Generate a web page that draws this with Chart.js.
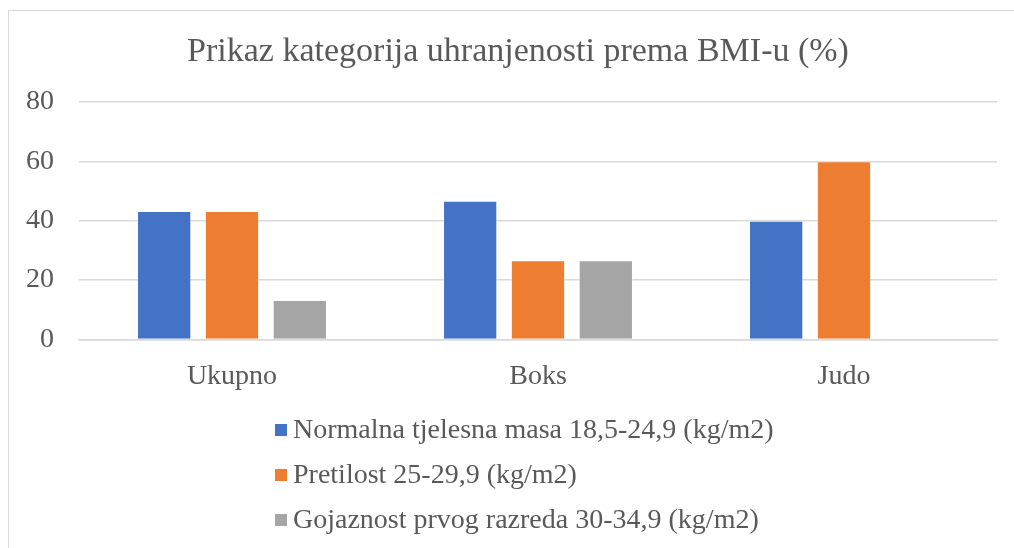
<!DOCTYPE html>
<html>
<head>
<meta charset="utf-8">
<script src="https://cdn.jsdelivr.net/npm/chart.js@4/dist/chart.umd.min.js"></script>
<style>
  html, body { margin: 0; padding: 0; background: #fff; overflow: hidden; }
  #frame { position: absolute; left: 8px; top: 10px; width: 1100px; height: 700px; border: 1px solid #d9d9d9; box-sizing: border-box; }
  #wrap { position: absolute; left: 0; top: 0; width: 1014px; height: 548px; }
  #title { position: absolute; left: 0; top: 30px; width: 1036px; text-align: center; font-family: "Liberation Serif", "Times New Roman", serif; font-size: 34px; line-height: 40px; color: #595959; white-space: nowrap; }
  #legend { position: absolute; left: 275px; top: 406px; font-family: "Liberation Serif", "Times New Roman", serif; font-size: 28px; color: #595959; }
  .item { display: flex; align-items: center; height: 45px; }
  .sw { width: 12px; height: 12px; margin-right: 6px; margin-top: 2px; }
</style>
</head>
<body>
<div id="frame"></div>
<div id="wrap"><canvas id="c" width="1014" height="548"></canvas></div>
<div id="title"></div>
<div id="legend"></div>
<script>
const titleText = "Prikaz kategorija uhranjenosti prema BMI-u (%)";
const categories = ["Ukupno", "Boks", "Judo"];
const seriesNames = [
  "Normalna tjelesna masa 18,5-24,9 (kg/m2)",
  "Pretilost 25-29,9 (kg/m2)",
  "Gojaznost prvog razreda 30-34,9 (kg/m2)"
];
const normalna = [43.3, 46.7, 40];
const pretilost = [43.3, 26.7, 60];
const gojaznost = [13.3, 26.7, 0];
const yTicks = [0, 20, 40, 60, 80];
const colors = ["#4472C4", "#ED7D31", "#A5A5A5"];

const seriesValues = [normalna, pretilost, gojaznost];
const datasets = seriesNames.map((name, i) => ({
  label: name,
  data: seriesValues[i],
  backgroundColor: colors[i],
  borderColor: "rgba(255,255,255,0.4)",
  borderWidth: 1,
  categoryPercentage: 0.665,
  barPercentage: 0.8
}));

const font = "'Liberation Serif', 'Times New Roman', serif";
Chart.defaults.font.family = font;
Chart.defaults.color = "#595959";

new Chart(document.getElementById("c"), {
  type: "bar",
  data: { labels: categories, datasets },
  options: {
    responsive: false,
    animation: false,
    layout: { padding: { left: 1, right: 17, top: 102, bottom: 143 } },
    plugins: {
      legend: { display: false },
      tooltip: { enabled: false },
      title: { display: false }
    },
    scales: {
      y: {
        min: 0, max: 80,
        afterBuildTicks: (axis) => { axis.ticks = yTicks.map(v => ({ value: v })); },
        ticks: { font: { size: 28 }, color: "#595959", padding: 25 },
        grid: { color: "#D9D9D9", lineWidth: 1.5, drawTicks: false },
        border: { display: false }
      },
      x: {
        ticks: { font: { size: 28 }, color: "#595959", padding: 12 },
        grid: { display: false },
        border: { color: "#D9D9D9", width: 1.5 }
      }
    }
  }
});

document.getElementById("title").textContent = titleText;
const lg = document.getElementById("legend");
seriesNames.forEach((name, i) => {
  const row = document.createElement("div");
  row.className = "item";
  const sw = document.createElement("span");
  sw.className = "sw";
  sw.style.background = colors[i];
  const t = document.createElement("span");
  t.textContent = name;
  row.appendChild(sw);
  row.appendChild(t);
  lg.appendChild(row);
});
</script>
</body>
</html>
